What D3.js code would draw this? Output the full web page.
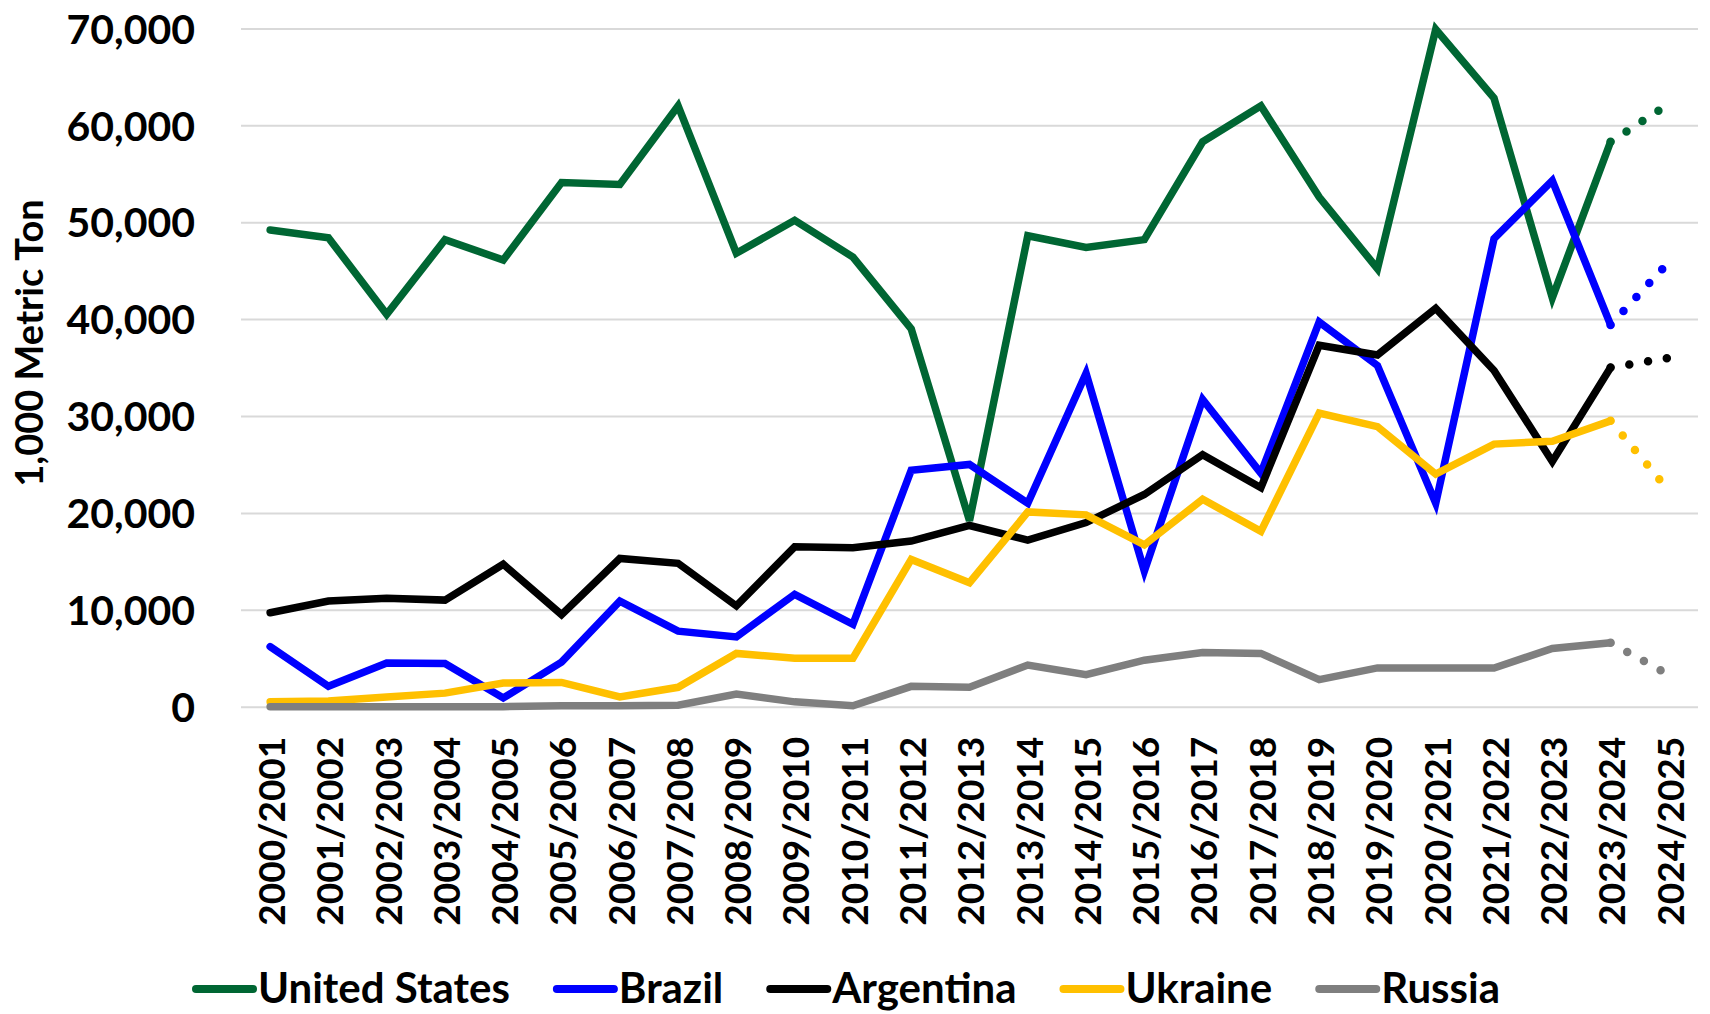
<!DOCTYPE html>
<html>
<head>
<meta charset="utf-8">
<script src="https://cdn.jsdelivr.net/npm/d3@7"></script>
<style>
  html, body { margin: 0; padding: 0; background: #ffffff; }
  svg { display: block; }
  text { font-family: Lato, "Open Sans", sans-serif; font-weight: bold; fill: #000; }
</style>
</head>
<body>
<svg id="chart" width="1710" height="1014"></svg>
<script>
// ---------------- DATA ----------------
const categories = [
  "2000/2001","2001/2002","2002/2003","2003/2004","2004/2005","2005/2006","2006/2007",
  "2007/2008","2008/2009","2009/2010","2010/2011","2011/2012","2012/2013","2013/2014",
  "2014/2015","2015/2016","2016/2017","2017/2018","2018/2019","2019/2020","2020/2021",
  "2021/2022","2022/2023","2023/2024","2024/2025"
];
const unitedStates = [49200, 48400, 40500, 48200, 46100, 54100, 53900, 62000, 46800, 50200, 46400, 39000, 19200, 48600, 47400, 48200, 58300, 62000, 52600, 45200, 69900, 62800, 42200, 58300, 62200];
const brazil       = [6200, 2100, 4500, 4450, 900, 4600, 10900, 7800, 7200, 11600, 8500, 24400, 25000, 21000, 34400, 14000, 31700, 24100, 39700, 35200, 21000, 48300, 54300, 39400, 45900];
const argentina    = [9700, 10900, 11200, 11000, 14700, 9500, 15300, 14800, 10400, 16500, 16400, 17100, 18700, 17200, 19000, 21900, 26000, 22600, 37300, 36300, 41100, 34700, 25300, 35000, 36000];
const ukraine      = [500, 600, 1000, 1400, 2450, 2500, 1000, 2000, 5500, 5000, 5000, 15200, 12800, 20100, 19800, 16700, 21400, 18100, 30300, 28900, 24000, 27100, 27400, 29500, 22300];
const russia       = [0, 0, 0, 0, 0, 100, 100, 150, 1300, 500, 100, 2100, 2000, 4300, 3300, 4800, 5600, 5500, 2800, 4000, 4000, 4000, 6000, 6600, 3300];
const seriesNames  = ["United States", "Brazil", "Argentina", "Ukraine", "Russia"];
const seriesValues = [unitedStates, brazil, argentina, ukraine, russia];
const yTickValues  = [0, 10000, 20000, 30000, 40000, 50000, 60000, 70000];
const yAxisTitle   = "1,000 Metric Ton";
const forecastFrom = "2023/2024";   // last actual point; following point is a projection

// ---------------- STYLE / LAYOUT ----------------
const colors = {
  "United States": "#006633",
  "Brazil": "#0000FF",
  "Argentina": "#000000",
  "Ukraine": "#FFC000",
  "Russia": "#7F7F7F"
};
const plotLeft = 241, plotRight = 1698, plotTop = 28.4, plotBottom = 706.7;

const svg = d3.select("#chart");
svg.append("rect").attr("width", 1710).attr("height", 1014).attr("fill", "#fff");

const x = d3.scaleBand().domain(categories).range([plotLeft, plotRight]);
const y = d3.scaleLinear().domain([0, 70000]).range([plotBottom, plotTop]);
const cx = d => x(d) + x.bandwidth() / 2;

// Y axis with gridlines
const yAxis = svg.append("g")
  .attr("transform", `translate(${plotLeft},0)`)
  .call(d3.axisLeft(y).tickValues(yTickValues).tickFormat(d3.format(","))
        .tickSize(-(plotRight - plotLeft)).tickPadding(46));
yAxis.select(".domain").remove();
yAxis.selectAll(".tick line").attr("stroke", "#d9d9d9").attr("stroke-width", 2);
yAxis.selectAll(".tick text")
  .style("font-size", "41px").style("font-family", "Lato, 'Open Sans', sans-serif")
  .style("font-weight", "bold").attr("fill", "#000").attr("dy", "0.36em");

// X axis labels (rotated)
const xAxis = svg.append("g")
  .attr("transform", `translate(0,${plotBottom})`)
  .call(d3.axisBottom(x).tickSize(0).tickPadding(0));
xAxis.select(".domain").remove();
xAxis.selectAll(".tick text")
  .attr("transform", "rotate(-90)")
  .attr("x", -30).attr("y", 1.5).attr("dy", "0.36em")
  .style("text-anchor", "end")
  .style("font-size", "37px").style("font-family", "Lato, 'Open Sans', sans-serif")
  .style("font-weight", "bold").attr("fill", "#000");

// Y axis title
svg.append("text")
  .attr("transform", "translate(29,343) rotate(-90)")
  .attr("text-anchor", "middle").attr("dy", "0.36em")
  .style("font-size", "38px")
  .text(yAxisTitle);

// Lines
const splitIdx = categories.indexOf(forecastFrom);
const line = d3.line().x(d => cx(d.c)).y(d => y(d.v));
const linesG = svg.append("g");
seriesNames.forEach((name, si) => {
  const pts = categories.map((c, i) => ({ c, v: seriesValues[si][i] }));
  const actual = pts.slice(0, splitIdx + 1);
  const proj = pts.slice(splitIdx);
  linesG.append("path").datum(actual)
    .attr("d", line).attr("fill", "none")
    .attr("stroke", colors[name]).attr("stroke-width", 7.5)
    .attr("stroke-linejoin", "miter").attr("stroke-linecap", "round");
  linesG.append("path").datum(proj)
    .attr("d", line).attr("fill", "none")
    .attr("stroke", colors[name]).attr("stroke-width", 8.5)
    .attr("stroke-linecap", "round").attr("stroke-dasharray", "0 19");
});

// Legend
const legend = svg.append("g");
let cursor = 0;
seriesNames.forEach(name => {
  const g = legend.append("g");
  g.append("line").attr("x1", 0).attr("x2", 57).attr("y1", 0).attr("y2", 0)
    .attr("stroke", colors[name]).attr("stroke-width", 8).attr("stroke-linecap", "round");
  const t = g.append("text").attr("x", 62).attr("y", 0).attr("dy", "0.34em")
    .style("font-size", "42px").text(name);
  const w = 62 + t.node().getComputedTextLength();
  g.attr("transform", `translate(${cursor},989)`);
  cursor += w + 47;
});
const totalW = cursor - 47;
legend.attr("transform", `translate(${848 - totalW / 2},0)`);
</script>
</body>
</html>
